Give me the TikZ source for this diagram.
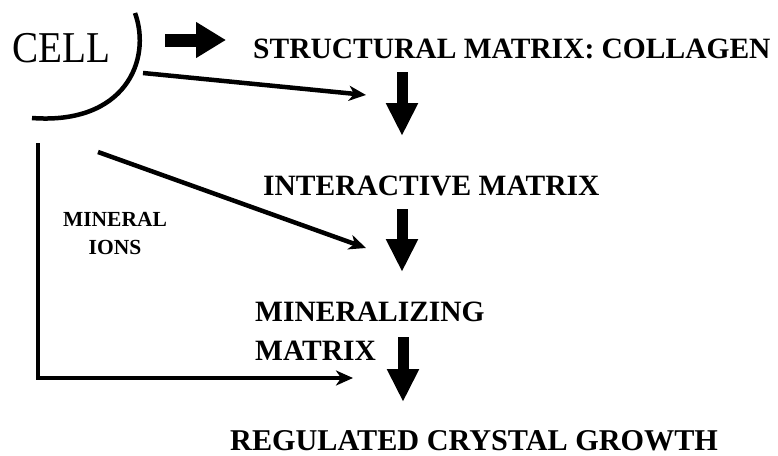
\documentclass[tikz,border=0pt]{standalone}
\usepackage{fontspec}
\setmainfont{Liberation Serif}
\usetikzlibrary{arrows.meta}
\begin{document}
\begin{tikzpicture}[x=1pt,y=-1pt,
  lbl/.style={inner sep=0pt, font=\fontsize{29.5}{39}\selectfont\bfseries},
  smalllbl/.style={inner sep=0pt, align=center, font=\fontsize{21.5}{28}\selectfont\bfseries},
  ionarrow/.style={line width=4.5pt, -{Stealth[length=17pt,width=15pt,inset=5pt]}},
  bigarrow/.style={line width=11pt, -{Triangle[length=33pt,width=30pt]}},
  sidearrow/.style={line width=13pt, -{Triangle[length=30pt,width=34pt]}}
]
\useasboundingbox (0,0) rectangle (778,455);
% texts
\node[inner sep=0pt, anchor=base west, font=\fontsize{44}{44}\selectfont] (cell) at (12,62) {\scalebox{0.89}[1]{CELL}};
\node[lbl, anchor=base west] (structural) at (253,58) {STRUCTURAL MATRIX: COLLAGEN};
\node[lbl, anchor=base west] (interactive) at (263,195) {INTERACTIVE MATRIX};
\node[lbl, anchor=north west, align=left] (mineralizing) at (255,302) {MINERALIZING\\MATRIX};
\node[lbl, anchor=base west, font=\fontsize{30.2}{39}\selectfont\bfseries] (growth) at (230,450) {REGULATED CRYSTAL GROWTH};
\node[smalllbl, anchor=north] (ions) at (115,212) {MINERAL\\IONS};
% cell membrane
\draw[line width=4.5pt] (135,13) .. controls (152,60) and (125,125) .. (32,118);
% connector ends
\coordinate (c1) at (143,73);  \coordinate (t1) at (366,95);
\coordinate (c2) at (98,152);  \coordinate (t2) at (366,248);
\coordinate (c3) at (38,143);  \coordinate (t3) at (353,378);
\coordinate (s0) at (165,40);  \coordinate (s1) at (226,40);
\coordinate (d1a) at (402,72); \coordinate (d1b) at (402,136);
\coordinate (d2a) at (402,209); \coordinate (d2b) at (402,272);
\coordinate (d3a) at (403,337); \coordinate (d3b) at (403,402);
% arrows
\draw[sidearrow] (s0) -- (s1);
\draw[ionarrow] (c1) -- (t1);
\draw[ionarrow] (c2) -- (t2);
\draw[ionarrow, line join=miter] (c3) |- (t3);
\draw[bigarrow] (d1a) -- (d1b);
\draw[bigarrow] (d2a) -- (d2b);
\draw[bigarrow] (d3a) -- (d3b);
\end{tikzpicture}
\end{document}
